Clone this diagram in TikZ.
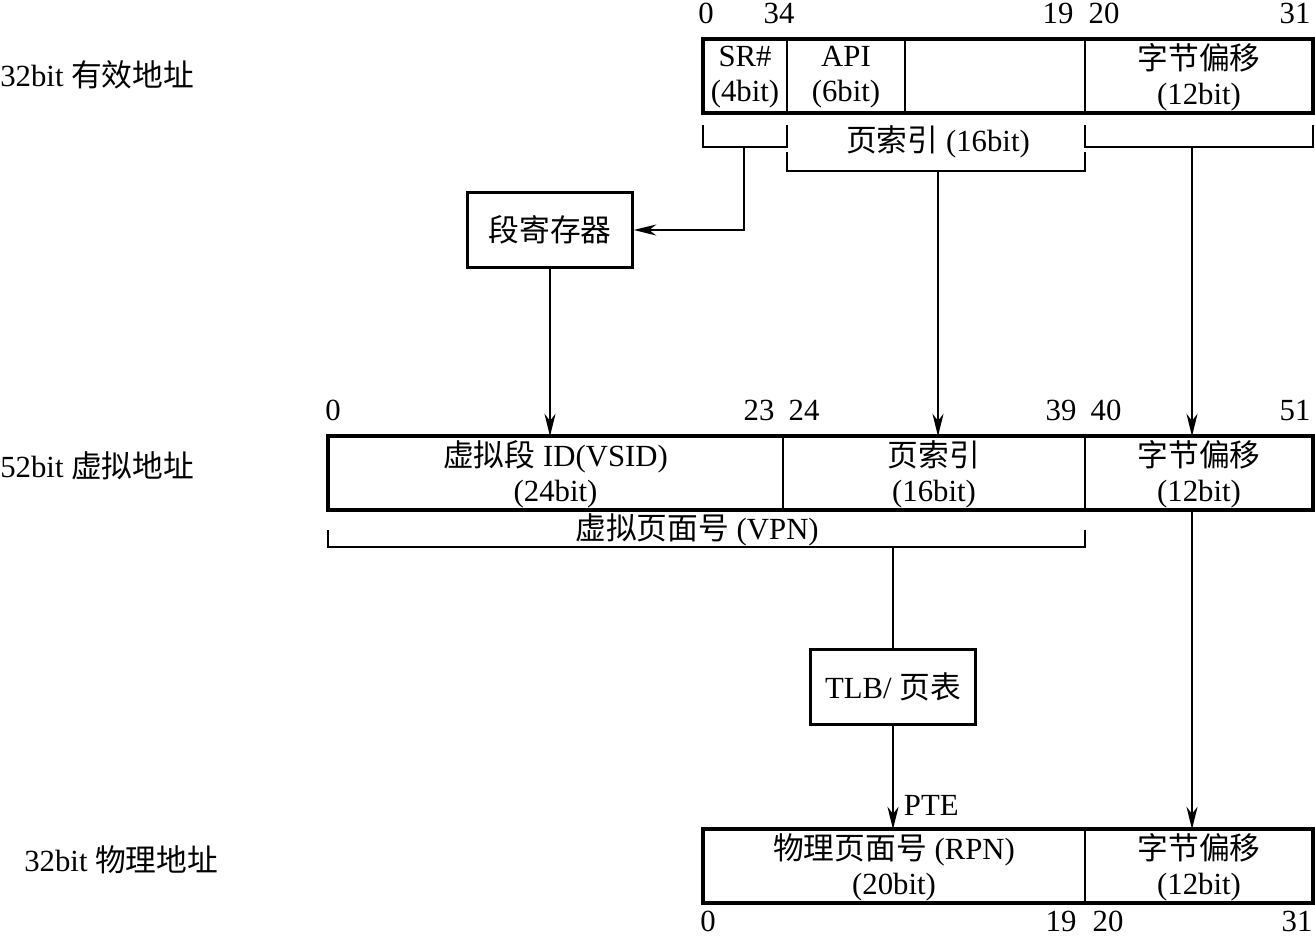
\documentclass[tikz,border=0pt]{standalone}
\usepackage{fontspec}
\setmainfont{Liberation Serif}
\newfontfamily\cjkfont{Noto Sans CJK SC}
\newcommand{\zh}[1]{{\cjkfont #1}}
\usetikzlibrary{arrows.meta}

\begin{document}
\begin{tikzpicture}[x=0.02cm, y=-0.02cm,
  every node/.style={font=\fontsize{17.5}{20}\selectfont},
  reg/.style={draw, line width=1.9pt, minimum height=1.48cm, inner sep=0pt},
  cell/.style={draw, line width=0.8pt, minimum height=1.48cm, align=center, inner sep=0pt},
  unit/.style={draw, line width=1.4pt, minimum height=1.5cm, minimum width=3.3cm},
  num/.style={inner sep=0pt},
  brk/.style={line width=1.1pt},
  arr/.style={-{Stealth[length=4.5mm, width=2.2mm, inset=1.4mm]}, line width=1.1pt}
]
\useasboundingbox (0,0) rectangle (1315,937);

% 32bit effective address
\node[num, anchor=west] (eaname) at (0,75) {32bit \zh{有效地址}};
\node[reg, minimum width=12.2cm] (ea) at (1008,76) {};
\node[cell, minimum width=1.68cm] (sr) at (745,77) {SR\#\\(4bit)};
\node[cell, minimum width=2.36cm] (api) at (846,77) {API\\(6bit)};
\node[cell, minimum width=3.6cm] (blank) at (995,76) {};
\node[cell, minimum width=4.56cm] (eoff) at (1199,77) {\zh{字节偏移}\\(12bit)};
\node[num] (e0) at (706,13) {0};
\node[num] (e34) at (779,13) {34};
\node[num] (e19) at (1058,13) {19};
\node[num] (e20) at (1104,13) {20};
\node[num] (e31) at (1295,13) {31};

% brackets under the effective address
\draw[brk] (703,125) |- (787,147) -- (787,125);
\draw[brk] (787,152) |- (1085,171) -- (1085,152);
\draw[brk] (1085,125) |- (1313,147) -- (1313,125);
\node[num] (pilabel) at (938,142) {\zh{页索引} (16bit)};
\coordinate (srm) at (744,147);
\coordinate (pim) at (938,171);
\coordinate (ofm) at (1192,147);

\node[unit] (seg) at (550,230) {\zh{段寄存器}};

% 52bit virtual address
\node[num, anchor=west] (vaname) at (0,466) {52bit \zh{虚拟地址}};
\node[reg, minimum width=19.7cm] (va) at (820.5,473) {};
\node[cell, minimum width=9.1cm] (vsid) at (555.5,474) {\zh{虚拟段} ID(VSID)\\(24bit)};
\node[cell, minimum width=6.04cm] (pidx) at (934,474) {\zh{页索引}\\(16bit)};
\node[cell, minimum width=4.56cm] (voff) at (1199,474) {\zh{字节偏移}\\(12bit)};
\node[num] (v0) at (333,410) {0};
\node[num] (v23) at (759,410) {23};
\node[num] (v24) at (804,410) {24};
\node[num] (v39) at (1061,410) {39};
\node[num] (v40) at (1106,410) {40};
\node[num] (v51) at (1295,410) {51};

\draw[brk] (328,530) |- (1085,547) -- (1085,530);
\node[num] (vpnlabel) at (697,530) {\zh{虚拟页面号} (VPN)};
\coordinate (vpnm) at (893,547);

\node[unit] (tlb) at (893,687) {TLB/ \zh{页表}};

% 32bit physical address
\node[num, anchor=west] (paname) at (24,860) {32bit \zh{物理地址}};
\node[reg, minimum width=12.2cm] (pa) at (1008,866) {};
\node[cell, minimum width=7.64cm] (rpn) at (894,867) {\zh{物理页面号} (RPN)\\(20bit)};
\node[cell, minimum width=4.56cm] (poff) at (1199,867) {\zh{字节偏移}\\(12bit)};
\node[num] (p0) at (708,921) {0};
\node[num] (p19) at (1061,921) {19};
\node[num] (p20) at (1108,921) {20};
\node[num] (p31) at (1297,921) {31};

% connectors
\draw[arr] (srm) |- (seg.east);
\draw[arr] (seg.south) -- (seg.south |- vsid.north);
\draw[arr] (pim) -- (pim |- pidx.north);
\draw[arr] (ofm) -- (ofm |- voff.north);
\draw[brk] (vpnm) -- (tlb.north);
\draw[arr] (tlb.south) -- node[pos=0.77, right=2mm, num] {PTE} (tlb.south |- rpn.north);
\draw[arr] (ofm |- voff.south) -- (ofm |- poff.north);
\end{tikzpicture}
\end{document}
